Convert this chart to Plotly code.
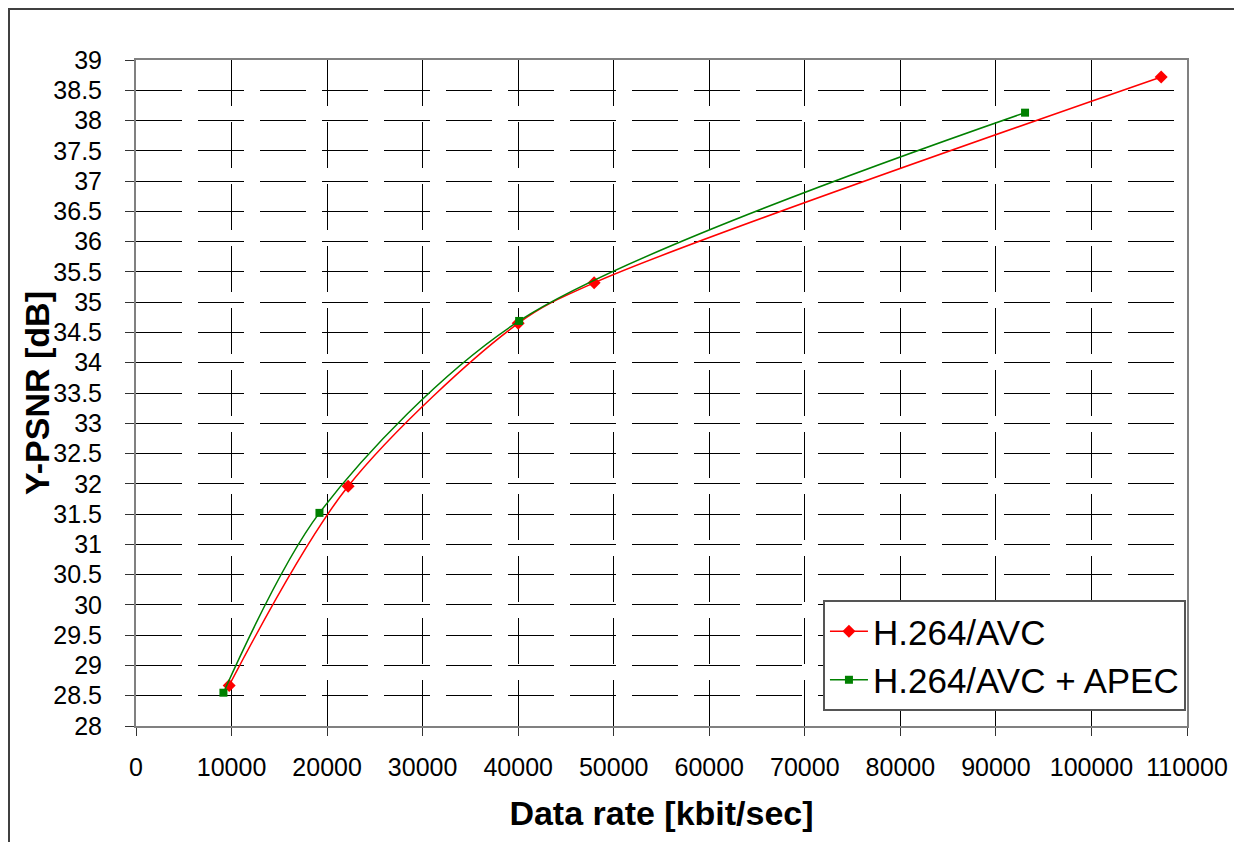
import plotly.graph_objects as go

# Data
avc_rate = [9750, 22200, 40000, 47950, 107300]
avc_psnr = [28.67, 31.96, 34.65, 35.32, 38.72]

apec_rate = [9150, 19200, 40100, 93050]
apec_psnr = [28.55, 31.52, 34.69, 38.13]

x_ticks = list(range(0, 110001, 10000))
y_ticks = [28 + 0.5 * i for i in range(23)]
y_tick_text = [("%g" % v) for v in y_ticks]

FONT = "Liberation Sans, Arial, sans-serif"

# page body has an 8px margin, so the figure is laid out 8px smaller
W, H = 1234, 834
L, R, T, B = 128, 55, 52, 116
PW, PH = W - L - R, H - T - B


def px_x(p):
    # page pixel -> paper x
    return (p - 8 - L) / PW


def px_y(p):
    # page pixel -> paper y
    return (H - B + 8 - p) / PH


fig = go.Figure()
fig.add_trace(go.Scatter(
    x=avc_rate, y=avc_psnr, name="H.264/AVC", mode="lines+markers",
    line=dict(color="#ff0000", width=1.5, shape="spline", smoothing=0.9),
    marker=dict(symbol="diamond", size=10, color="#ff0000"),
))
fig.add_trace(go.Scatter(
    x=apec_rate, y=apec_psnr, name="H.264/AVC + APEC", mode="lines+markers",
    line=dict(color="#008000", width=1.5, shape="spline", smoothing=0.85),
    marker=dict(symbol="square", size=8, color="#008000"),
))

fig.update_layout(
    width=W, height=H,
    margin=dict(l=L, r=R, t=T, b=B),
    paper_bgcolor="white", plot_bgcolor="white",
    font=dict(family=FONT, color="black"),
    showlegend=True,
    legend=dict(
        x=0.999, y=0.0225, xanchor="right", yanchor="bottom",
        bgcolor="white", bordercolor="#555555", borderwidth=2,
        font=dict(size=35, family=FONT, color="black"),
        itemwidth=38, tracegroupgap=0,
    ),
)

fig.update_xaxes(
    range=[0, 110000], tickvals=x_ticks, ticktext=[str(v) for v in x_ticks],
    showgrid=True, gridcolor="black", gridwidth=1, griddash="46px,16px",
    showline=True, linecolor="#808080", linewidth=2, mirror=True,
    ticks="outside", ticklen=8, tickcolor="#333333", tickwidth=1,
    tickfont=dict(size=25, family=FONT), ticklabelstandoff=10,
    zeroline=False,
    title=dict(text="<b>Data rate [kbit/sec]</b>", font=dict(size=34, family=FONT), standoff=21),
)
fig.update_yaxes(
    range=[28, 39], tickvals=y_ticks, ticktext=y_tick_text,
    showgrid=True, gridcolor="black", gridwidth=1, griddash="46px,16px",
    showline=True, linecolor="#808080", linewidth=2, mirror=True,
    ticks="outside", ticklen=9, tickcolor="#333333", tickwidth=1,
    tickfont=dict(size=25, family=FONT), ticklabelstandoff=18,
    zeroline=False,
)

# y-axis title as an annotation so it can sit at the reference position
fig.add_annotation(
    text="<b>Y-PSNR [dB]</b>", xref="paper", yref="paper",
    x=px_x(37), y=0.5, xanchor="center", yanchor="middle",
    textangle=-90, showarrow=False, font=dict(size=34, family=FONT, color="black"),
)

# Outer frame around the whole chart (kept inside the drawable area)
fig.add_shape(type="rect", xref="paper", yref="paper",
              x0=px_x(9), x1=px_x(1240), y0=px_y(860), y1=px_y(9),
              line=dict(color="#404040", width=2), fillcolor="rgba(0,0,0,0)", layer="below")

fig.write_html("out.html")
